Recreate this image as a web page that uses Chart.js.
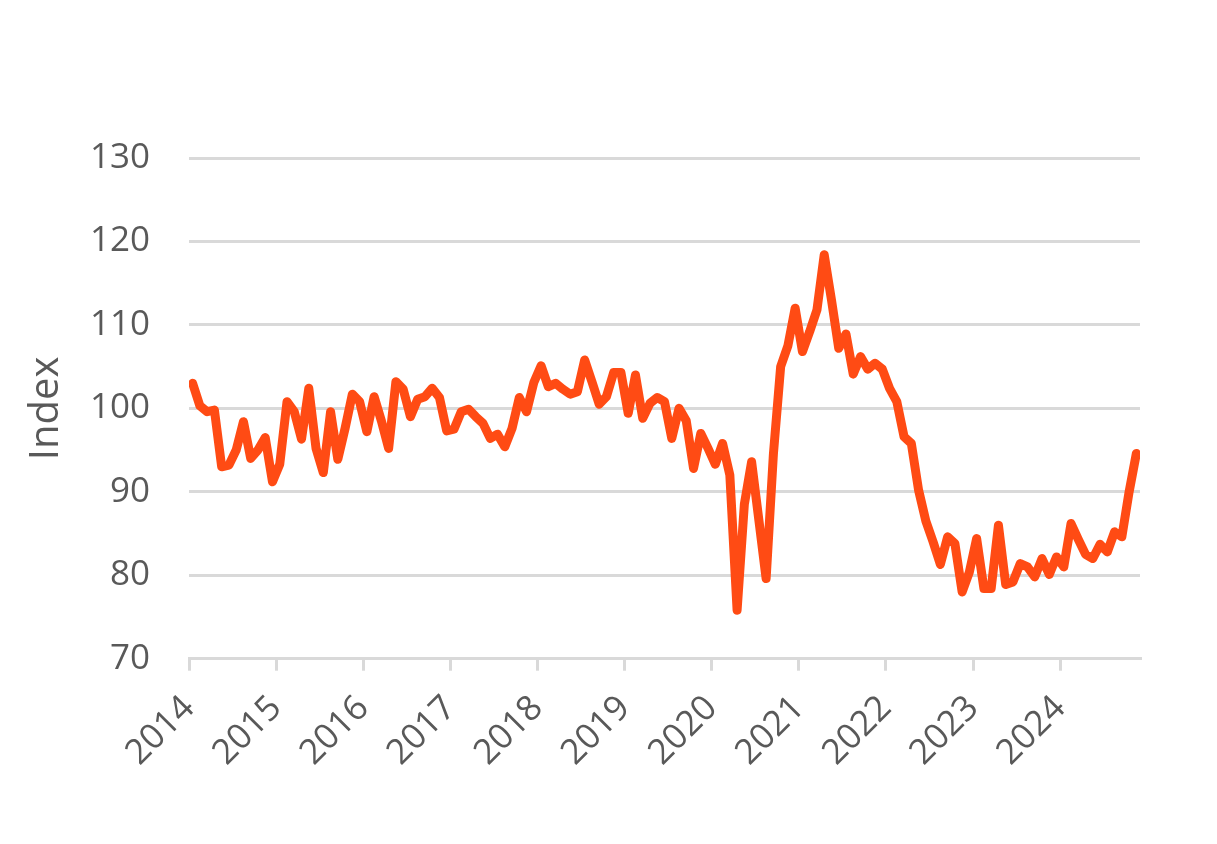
<!DOCTYPE html>
<html>
<head>
<meta charset="utf-8">
<script src="https://cdn.jsdelivr.net/npm/chart.js@4"></script>
<style>
  body { margin: 0; background: #fff; }
  canvas { display: block; }
</style>
</head>
<body>
<canvas id="chart" width="1217" height="844"></canvas>
<script>
// monthly index, Jan 2014 .. Nov 2024
const yearLabels = ['2014', '2015', '2016', '2017', '2018', '2019', '2020', '2021', '2022', '2023', '2024'];
const indexValues = [
    103.0, 100.3, 99.6, 99.8, 93.0, 93.2, 95.0, 98.4, 94.0, 95.0, 96.5, 91.2,   // 2014
    93.3, 100.8, 99.6, 96.3, 102.4, 95.2, 92.3, 99.6, 93.9, 97.6, 101.7, 100.8, // 2015
    97.2, 101.4, 98.5, 95.2, 103.2, 102.3, 99.0, 101.1, 101.4, 102.4, 101.3, 97.3, // 2016
    97.5, 99.6, 99.9, 99.0, 98.2, 96.4, 96.9, 95.4, 97.6, 101.3, 99.6, 103.1,   // 2017
    105.1, 102.6, 103.0, 102.3, 101.7, 102.0, 105.8, 103.2, 100.5, 101.4, 104.3, 104.3, // 2018
    99.4, 104.0, 98.8, 100.6, 101.3, 100.8, 96.4, 100.0, 98.5, 92.8, 97.0, 95.2, // 2019
    93.3, 95.8, 92.0, 75.8, 88.5, 93.6, 86.6, 79.6, 94.5, 105.0, 107.5, 112.0,  // 2020
    106.8, 109.2, 111.8, 118.4, 113.0, 107.2, 108.9, 104.1, 106.2, 104.7, 105.4, 104.7, // 2021
    102.4, 100.8, 96.6, 95.8, 90.2, 86.5, 84.0, 81.3, 84.6, 83.8, 78.0, 80.4,   // 2022
    84.4, 78.4, 78.4, 86.0, 78.9, 79.2, 81.4, 81.0, 79.8, 82.0, 80.1, 82.2,     // 2023
    81.0, 86.2, 84.3, 82.5, 82.0, 83.7, 82.8, 85.2, 84.6, 90.0, 94.6            // 2024
];
const yTicks = [70, 80, 90, 100, 110, 120, 130];

const gridColor = '#d9d9d9';
const textColor = '#595959';
const fontFamily = "'Open Sans', 'Liberation Sans', sans-serif";

// each month takes one slot, the point sits in the middle of its slot
const points = indexValues.map((v, i) => ({ x: i + 0.5, y: v }));

new Chart(document.getElementById('chart'), {
    type: 'line',
    data: {
        datasets: [{
            label: 'Index',
            data: points,
            borderColor: '#FF4B14',
            borderWidth: 9,
            borderJoinStyle: 'round',
            borderCapStyle: 'round',
            pointRadius: 0,
            tension: 0,
            fill: false
        }]
    },
    options: {
        responsive: false,
        animation: false,
        layout: {
            padding: { top: 158, right: 77, bottom: 53, left: 0 }
        },
        plugins: {
            legend: { display: false },
            tooltip: { enabled: false }
        },
        scales: {
            x: {
                type: 'linear',
                min: 0,
                max: indexValues.length,
                grid: {
                    drawOnChartArea: false,
                    drawTicks: true,
                    tickLength: 12,
                    color: gridColor,
                    lineWidth: 3
                },
                border: { display: true, color: gridColor, width: 3 },
                ticks: {
                    stepSize: 12,
                    includeBounds: false,
                    autoSkip: false,
                    minRotation: 45,
                    maxRotation: 45,
                    padding: 17,
                    color: textColor,
                    font: { family: fontFamily, size: 35 },
                    callback: (v) => yearLabels[v / 12]
                }
            },
            y: {
                min: 70,
                max: 130,
                afterFit: (scale) => { scale.width = 189; },
                afterBuildTicks: (scale) => {
                    scale.ticks = yTicks.map(v => ({ value: v }));
                },
                grid: {
                    color: gridColor,
                    lineWidth: 3,
                    drawTicks: false
                },
                border: { display: false },
                ticks: {
                    padding: 39,
                    color: textColor,
                    font: { family: fontFamily, size: 35 }
                },
                title: {
                    display: true,
                    text: 'Index',
                    color: textColor,
                    padding: { top: 23, bottom: 0 },
                    font: { family: fontFamily, size: 40 }
                }
            }
        }
    }
});
</script>
</body>
</html>
